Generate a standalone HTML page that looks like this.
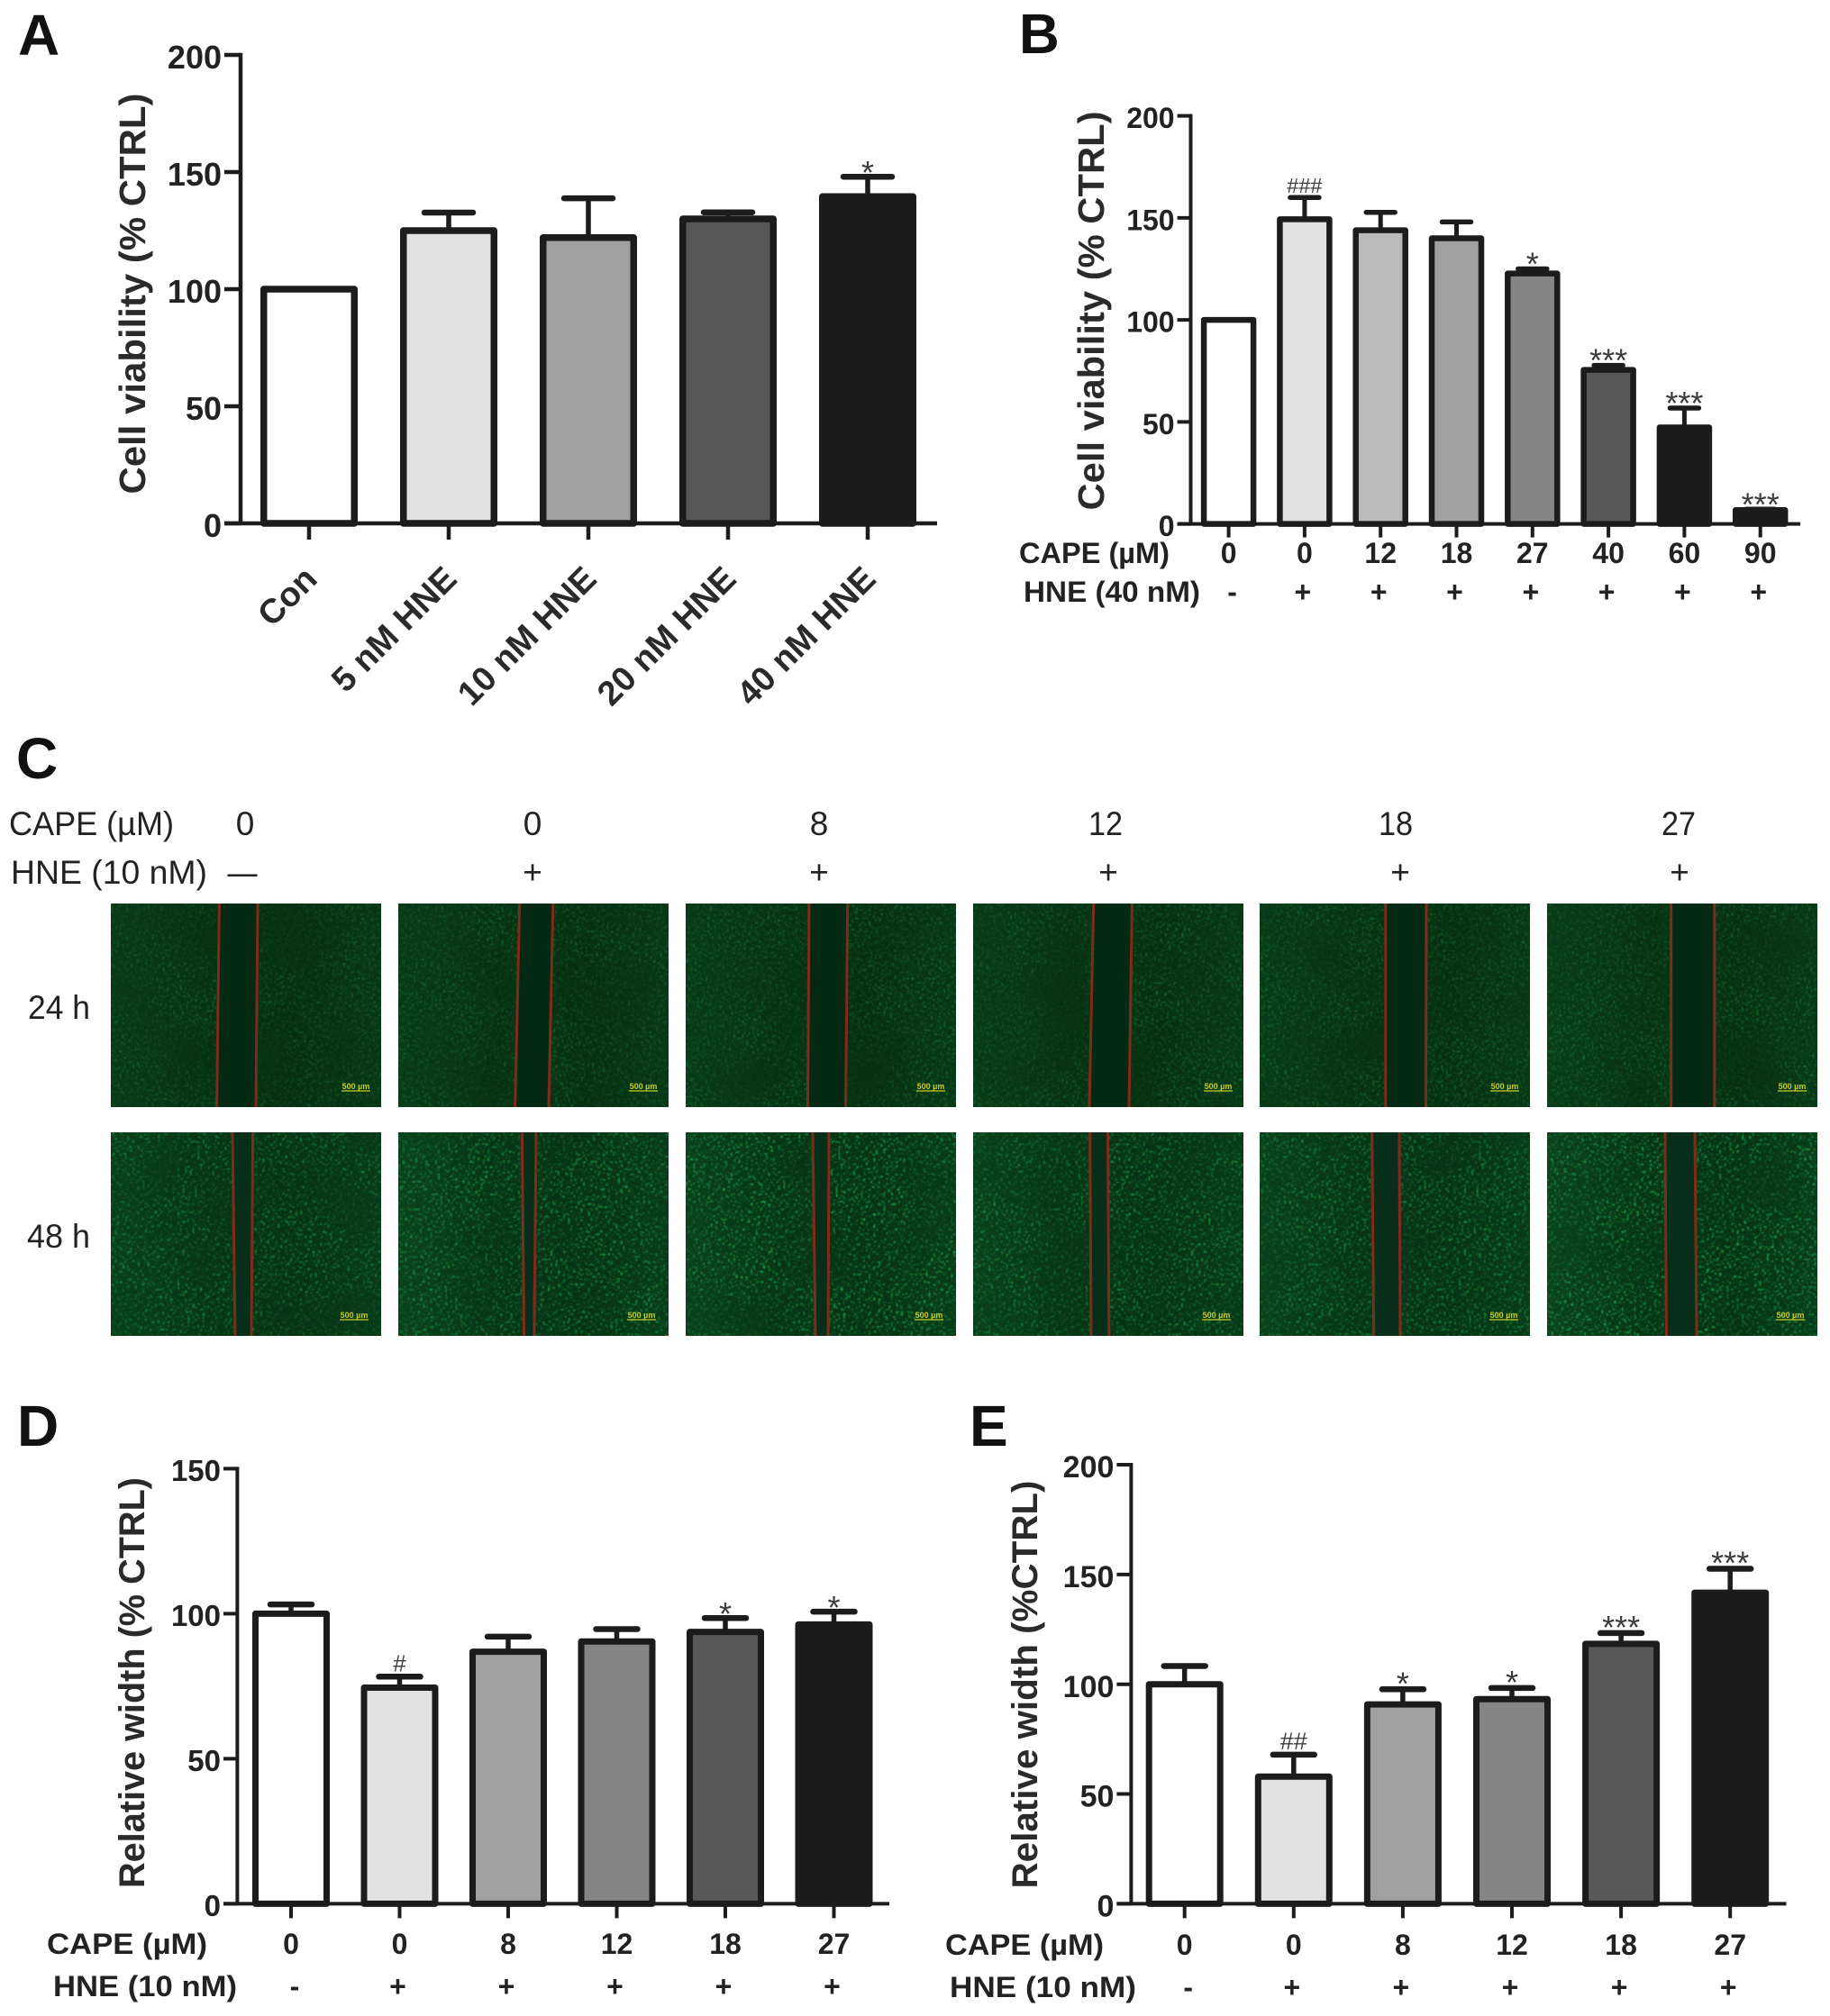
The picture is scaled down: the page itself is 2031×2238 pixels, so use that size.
<!DOCTYPE html>
<html lang="en">
<head>
<meta charset="utf-8">
<title>Cell viability and relative width figure</title>
<style>
html,body{margin:0;padding:0;background:#fff;}
svg{display:block;}
text{font-family:"Liberation Sans",Arial,sans-serif;}
.edge{stroke:#7f2a1d;stroke-width:3;}
</style>
</head>
<body>
<svg id="figure" xmlns="http://www.w3.org/2000/svg" width="2031" height="2238" viewBox="0 0 2031 2238">
<defs>
<filter id="speck1" x="0" y="0" width="1" height="1" color-interpolation-filters="sRGB">
<feTurbulence type="fractalNoise" baseFrequency="0.42" numOctaves="2" seed="4" result="fine"/>
<feColorMatrix in="fine" type="matrix" values="0 0 0 0 0.08  0 0 0 0 0.52  0 0 0 0 0.2  6 0 0 0 -3.4" result="dots"/>
<feTurbulence type="fractalNoise" baseFrequency="0.014" numOctaves="2" seed="5" result="coarse"/>
<feColorMatrix in="coarse" type="matrix" values="0 0 0 0 1  0 0 0 0 1  0 0 0 0 1  1.6 0 0 0 -0.05" result="mask"/>
<feComposite in="dots" in2="mask" operator="in"/>
<feGaussianBlur stdDeviation="0.8"/>
</filter>
<filter id="speck2" x="0" y="0" width="1" height="1" color-interpolation-filters="sRGB">
<feTurbulence type="fractalNoise" baseFrequency="0.36" numOctaves="2" seed="9" result="fine"/>
<feColorMatrix in="fine" type="matrix" values="0 0 0 0 0.12  0 0 0 0 0.72  0 0 0 0 0.3  7 0 0 0 -4.1" result="dots"/>
<feTurbulence type="fractalNoise" baseFrequency="0.014" numOctaves="2" seed="12" result="coarse"/>
<feColorMatrix in="coarse" type="matrix" values="0 0 0 0 1  0 0 0 0 1  0 0 0 0 1  1.8 0 0 0 0" result="mask"/>
<feComposite in="dots" in2="mask" operator="in"/>
<feGaussianBlur stdDeviation="0.9"/>
</filter>
<linearGradient id="edge-glow" x1="0" x2="1" y1="0" y2="0">
<stop offset="0" stop-color="#1d8a3a" stop-opacity="0.16"/>
<stop offset="0.35" stop-color="#1d8a3a" stop-opacity="0.03"/>
<stop offset="0.7" stop-color="#1d8a3a" stop-opacity="0"/>
<stop offset="1" stop-color="#1d8a3a" stop-opacity="0.1"/>
</linearGradient>
</defs>
<rect x="0" y="0" width="2031" height="2238" fill="#ffffff"/>

<text x="20" y="61" font-size="64" font-weight="700" fill="#111">A</text>
<text x="1131" y="59" font-size="62" font-weight="700" fill="#111">B</text>
<text x="18" y="864" font-size="64" font-weight="700" fill="#111">C</text>
<text x="19" y="1605" font-size="64" font-weight="700" fill="#111">D</text>
<text x="1076" y="1605" font-size="64" font-weight="700" fill="#111">E</text>

<g id="chart-a"></g>
<g id="chart-b"></g>
<g id="chart-d"></g>
<g id="chart-e"></g>

<g font-size="37" fill="#222">
<text x="10" y="927" textLength="183" lengthAdjust="spacingAndGlyphs">CAPE (µM)</text>
<text x="12" y="981" textLength="218" lengthAdjust="spacingAndGlyphs">HNE (10 nM)</text>
<g text-anchor="middle">
<text x="272" y="927">0</text>
<text x="591" y="927">0</text>
<text x="909" y="927">8</text>
<text x="1227" y="927" textLength="38" lengthAdjust="spacingAndGlyphs">12</text>
<text x="1549" y="927" textLength="38" lengthAdjust="spacingAndGlyphs">18</text>
<text x="1863" y="927" textLength="38" lengthAdjust="spacingAndGlyphs">27</text>
</g>
<g text-anchor="middle">
<text x="269" y="981" textLength="33" lengthAdjust="spacingAndGlyphs">—</text>
<text x="591" y="981">+</text>
<text x="909" y="981">+</text>
<text x="1230" y="981">+</text>
<text x="1554" y="981">+</text>
<text x="1864" y="981">+</text>
</g>
<text x="31" y="1131" textLength="69" lengthAdjust="spacingAndGlyphs">24 h</text>
<text x="30" y="1385" textLength="70" lengthAdjust="spacingAndGlyphs">48 h</text>
</g>

<g font-size="9" font-weight="700" fill="#c9cc22" text-anchor="middle">
<g>
<rect x="123" y="1003" width="300" height="226" fill="#073013"/>
<rect x="123" y="1003" width="300" height="226" filter="url(#speck1)" opacity="0.8"/>
<rect x="123" y="1003" width="300" height="226" fill="url(#edge-glow)" opacity="0.6"/>
<polygon points="243,1003 286,1003 284,1229 241,1229" fill="#052a14"/>
<line class="edge" x1="243.4" y1="1003" x2="240.6" y2="1229"/>
<line class="edge" x1="286" y1="1003" x2="284" y2="1229"/>
<text x="395" y="1209">500 µm</text>
<line x1="379" y1="1211" x2="411" y2="1211" stroke="#c9cc22" stroke-width="1.2"/>
</g>
<g>
<rect x="442" y="1003" width="300" height="226" fill="#073013"/>
<rect x="442" y="1003" width="300" height="226" filter="url(#speck1)" opacity="0.85"/>
<rect x="442" y="1003" width="300" height="226" fill="url(#edge-glow)" opacity="0.7"/>
<polygon points="576.6,1003 613.8,1003 609,1229 571.7,1229" fill="#052a14"/>
<line class="edge" x1="576.6" y1="1003" x2="571.7" y2="1229"/>
<line class="edge" x1="613.8" y1="1003" x2="609" y2="1229"/>
<text x="714" y="1209">500 µm</text>
<line x1="698" y1="1211" x2="730" y2="1211" stroke="#c9cc22" stroke-width="1.2"/>
</g>
<g>
<rect x="761" y="1003" width="300" height="226" fill="#073013"/>
<rect x="761" y="1003" width="300" height="226" filter="url(#speck1)" opacity="0.9"/>
<rect x="761" y="1003" width="300" height="226" fill="url(#edge-glow)" opacity="0.7"/>
<polygon points="898,1003 940.7,1003 938.6,1229 896.5,1229" fill="#052a14"/>
<line class="edge" x1="898" y1="1003" x2="896.5" y2="1229"/>
<line class="edge" x1="940.7" y1="1003" x2="938.6" y2="1229"/>
<text x="1033" y="1209">500 µm</text>
<line x1="1017" y1="1211" x2="1049" y2="1211" stroke="#c9cc22" stroke-width="1.2"/>
</g>
<g>
<rect x="1080" y="1003" width="300" height="226" fill="#073013"/>
<rect x="1080" y="1003" width="300" height="226" filter="url(#speck1)" opacity="0.9"/>
<rect x="1080" y="1003" width="300" height="226" fill="url(#edge-glow)" opacity="0.7"/>
<polygon points="1213.7,1003 1256.4,1003 1253,1229 1209,1229" fill="#052a14"/>
<line class="edge" x1="1213.7" y1="1003" x2="1209" y2="1229"/>
<line class="edge" x1="1256.4" y1="1003" x2="1253" y2="1229"/>
<text x="1352" y="1209">500 µm</text>
<line x1="1336" y1="1211" x2="1368" y2="1211" stroke="#c9cc22" stroke-width="1.2"/>
</g>
<g>
<rect x="1398" y="1003" width="300" height="226" fill="#073013"/>
<rect x="1398" y="1003" width="300" height="226" filter="url(#speck1)" opacity="0.9"/>
<rect x="1398" y="1003" width="300" height="226" fill="url(#edge-glow)" opacity="0.7"/>
<polygon points="1537.8,1003 1583,1003 1582.5,1229 1537.8,1229" fill="#052a14"/>
<line class="edge" x1="1537.8" y1="1003" x2="1537.8" y2="1229"/>
<line class="edge" x1="1583" y1="1003" x2="1582.5" y2="1229"/>
<text x="1670" y="1209">500 µm</text>
<line x1="1654" y1="1211" x2="1686" y2="1211" stroke="#c9cc22" stroke-width="1.2"/>
</g>
<g>
<rect x="1717" y="1003" width="300" height="226" fill="#073013"/>
<rect x="1717" y="1003" width="300" height="226" filter="url(#speck1)" opacity="0.95"/>
<rect x="1717" y="1003" width="300" height="226" fill="url(#edge-glow)" opacity="0.8"/>
<polygon points="1854.7,1003 1902.8,1003 1902.8,1229 1854.7,1229" fill="#052a14"/>
<line class="edge" x1="1854.7" y1="1003" x2="1854.7" y2="1229"/>
<line class="edge" x1="1902.8" y1="1003" x2="1902.8" y2="1229"/>
<text x="1989" y="1209">500 µm</text>
<line x1="1973" y1="1211" x2="2005" y2="1211" stroke="#c9cc22" stroke-width="1.2"/>
</g>

<g>
<rect x="123" y="1257" width="300" height="226" fill="#073316"/>
<rect x="123" y="1257" width="300" height="226" filter="url(#speck2)" opacity="0.75"/>
<rect x="123" y="1257" width="300" height="226" fill="url(#edge-glow)" opacity="0.8"/>
<polygon points="258,1257 280.6,1257 279,1483 261,1483" fill="#062e18"/>
<line class="edge" x1="258" y1="1257" x2="261" y2="1483"/>
<line class="edge" x1="280.6" y1="1257" x2="279" y2="1483"/>
<text x="393" y="1463">500 µm</text>
<line x1="377" y1="1465" x2="409" y2="1465" stroke="#c9cc22" stroke-width="1.2"/>
</g>
<g>
<rect x="442" y="1257" width="300" height="226" fill="#073316"/>
<rect x="442" y="1257" width="300" height="226" filter="url(#speck2)" opacity="0.85"/>
<rect x="442" y="1257" width="300" height="226" fill="url(#edge-glow)" opacity="1"/>
<polygon points="579.4,1257 595,1257 592.8,1483 581.6,1483" fill="#062e18"/>
<line class="edge" x1="579.4" y1="1257" x2="581.6" y2="1483"/>
<line class="edge" x1="595" y1="1257" x2="592.8" y2="1483"/>
<text x="712" y="1463">500 µm</text>
<line x1="696" y1="1465" x2="728" y2="1465" stroke="#c9cc22" stroke-width="1.2"/>
</g>
<g>
<rect x="761" y="1257" width="300" height="226" fill="#073316"/>
<rect x="761" y="1257" width="300" height="226" filter="url(#speck2)" opacity="0.95"/>
<rect x="761" y="1257" width="300" height="226" fill="url(#edge-glow)" opacity="0.9"/>
<polygon points="902,1257 920,1257 919,1483 905,1483" fill="#062e18"/>
<line class="edge" x1="902" y1="1257" x2="905" y2="1483"/>
<line class="edge" x1="920" y1="1257" x2="919" y2="1483"/>
<text x="1031" y="1463">500 µm</text>
<line x1="1015" y1="1465" x2="1047" y2="1465" stroke="#c9cc22" stroke-width="1.2"/>
</g>
<g>
<rect x="1080" y="1257" width="300" height="226" fill="#073316"/>
<rect x="1080" y="1257" width="300" height="226" filter="url(#speck2)" opacity="0.8"/>
<rect x="1080" y="1257" width="300" height="226" fill="url(#edge-glow)" opacity="0.9"/>
<polygon points="1209.7,1257 1229.5,1257 1230.8,1483 1211,1483" fill="#062e18"/>
<line class="edge" x1="1209.7" y1="1257" x2="1211" y2="1483"/>
<line class="edge" x1="1229.5" y1="1257" x2="1230.8" y2="1483"/>
<text x="1350" y="1463">500 µm</text>
<line x1="1334" y1="1465" x2="1366" y2="1465" stroke="#c9cc22" stroke-width="1.2"/>
</g>
<g>
<rect x="1398" y="1257" width="300" height="226" fill="#073316"/>
<rect x="1398" y="1257" width="300" height="226" filter="url(#speck2)" opacity="0.8"/>
<rect x="1398" y="1257" width="300" height="226" fill="url(#edge-glow)" opacity="0.9"/>
<polygon points="1522.7,1257 1553,1257 1554,1483 1524.7,1483" fill="#062e18"/>
<line class="edge" x1="1522.7" y1="1257" x2="1524.7" y2="1483"/>
<line class="edge" x1="1553" y1="1257" x2="1554" y2="1483"/>
<text x="1669" y="1463">500 µm</text>
<line x1="1653" y1="1465" x2="1685" y2="1465" stroke="#c9cc22" stroke-width="1.2"/>
</g>
<g>
<rect x="1717" y="1257" width="300" height="226" fill="#073316"/>
<rect x="1717" y="1257" width="300" height="226" filter="url(#speck2)" opacity="1"/>
<rect x="1717" y="1257" width="300" height="226" fill="url(#edge-glow)" opacity="1.0"/>
<polygon points="1848,1257 1881,1257 1883,1483 1849.5,1483" fill="#062e18"/>
<line class="edge" x1="1848" y1="1257" x2="1849.5" y2="1483"/>
<line class="edge" x1="1881" y1="1257" x2="1883" y2="1483"/>
<text x="1987" y="1463">500 µm</text>
<line x1="1971" y1="1465" x2="2003" y2="1465" stroke="#c9cc22" stroke-width="1.2"/>
</g>
</g>
</svg>

<script>
// Panel A data
const panelACategories = ['Con', '5 nM HNE', '10 nM HNE', '20 nM HNE', '40 nM HNE'];
const panelAValues = [100, 125, 122, 130, 139.5];
const panelAErrorTops = [100, 132.7, 138.8, 132.8, 148];
const panelAMarks = ['', '', '', '', '*'];
const panelATicks = [0, 50, 100, 150, 200];
const panelATickLabels = ['0', '50', '100', '150', '200'];

// Panel B data
const panelBCape = ['0', '0', '12', '18', '27', '40', '60', '90'];
const panelBHne = ['-', '+', '+', '+', '+', '+', '+', '+'];
const panelBValues = [100, 149.3, 143.9, 140, 122.7, 75.5, 47.3, 6.8];
const panelBErrorTops = [100, 160, 152.7, 148, 125, 77.7, 56.8, 7.2];
const panelBMarks = ['', '###', '', '', '*', '***', '***', '***'];
const panelBTicks = [0, 50, 100, 150, 200];
const panelBTickLabels = ['0', '50', '100', '150', '200'];

// Panel D data
const panelDCape = ['0', '0', '8', '12', '18', '27'];
const panelDHne = ['-', '+', '+', '+', '+', '+'];
const panelDValues = [100, 74.5, 86.9, 90.4, 93.7, 96.3];
const panelDErrorTops = [103.2, 78.3, 92.1, 94.7, 98.5, 100.7];
const panelDMarks = ['', '#', '', '', '*', '*'];
const panelDTicks = [0, 50, 100, 150];
const panelDTickLabels = ['0', '50', '100', '150'];

// Panel E data
const panelECape = ['0', '0', '8', '12', '18', '27'];
const panelEHne = ['-', '+', '+', '+', '+', '+'];
const panelEValues = [100, 57.9, 90.8, 93.2, 118.4, 141.7];
const panelEErrorTops = [108.3, 67.9, 97.7, 98.3, 123.3, 152.6];
const panelEMarks = ['', '##', '*', '*', '***', '***'];
const panelETicks = [0, 50, 100, 150, 200];
const panelETickLabels = ['0', '50', '100', '150', '200'];

const INK = '#1c1c1c';
const SVGNS = 'http://www.w3.org/2000/svg';

function node(parent, tag, props, content) {
  const el = document.createElementNS(SVGNS, tag);
  for (const key in props) { el.setAttribute(key, props[key]); }
  if (content !== undefined) { el.textContent = content; }
  parent.appendChild(el);
  return el;
}

function drawChart(g, o) {
  const yOf = function (v) { return o.bottom - (v / o.max) * (o.bottom - o.top); };
  const xOf = function (i) { return o.firstX + i * o.stepX; };

  // bars and error bars
  o.values.forEach(function (v, i) {
    const cx = xOf(i);
    const errLine = node(g, 'line', {x1: cx, x2: cx, y1: yOf(v), y2: yOf(o.errors[i]), stroke: INK, 'stroke-width': o.errW});
    
    
    const cap = node(g, 'line', {x1: cx - o.capW / 2, x2: cx + o.capW / 2, y1: yOf(o.errors[i]), y2: yOf(o.errors[i]), stroke: INK, 'stroke-width': o.capT, 'stroke-linecap': 'round'});
    
    
    const bar = node(g, 'rect', {x: cx - o.barW / 2 + o.stroke / 2, y: yOf(v), width: o.barW - o.stroke, height: o.bottom - yOf(v), fill: o.fills[i], stroke: INK, 'stroke-width': o.stroke, 'stroke-linejoin': 'round'});
    
    
    const mark = o.marks[i];
    if (mark) {
      const isStar = mark.charAt(0) === '*';
      const size = isStar ? o.starSize : o.hashSize;
      const label = node(g, 'text', {x: cx, y: yOf(o.errors[i]) + (isStar ? o.starDy : o.hashDy), 'text-anchor': 'middle', 'font-size': size, fill: '#3c3c3c'}, mark);
      
      
    }
  });

  // axes
  const yAxis = node(g, 'line', {x1: o.left, x2: o.left, y1: o.top - o.axisW / 2, y2: o.bottom, stroke: INK, 'stroke-width': o.axisW});
  
  
  const xAxis = node(g, 'line', {x1: o.tickLeft, x2: o.right, y1: o.bottom, y2: o.bottom, stroke: INK, 'stroke-width': o.axisW});
  
  

  o.ticks.forEach(function (t, i) {
    const y = yOf(t);
    const tick = node(g, 'line', {x1: o.tickLeft, x2: o.left, y1: y, y2: y, stroke: INK, 'stroke-width': o.axisW});
    
    
    const lab = node(g, 'text', {x: o.tickLeft - 3, y: y + o.tickFont * 0.358 + 2, 'text-anchor': 'end', 'font-size': o.tickFont, 'font-weight': 700, fill: '#222'}, o.tickLabels[i]);
    
    
  });

  o.values.forEach(function (v, i) {
    const tick = node(g, 'line', {x1: xOf(i), x2: xOf(i), y1: o.bottom, y2: o.bottom + o.tickLen, stroke: INK, 'stroke-width': o.axisW});
    
    
  });

  // y axis title
  const title = node(g, 'text', {transform: 'translate(' + o.titleX + ',' + o.titleY + ') rotate(-90)', 'text-anchor': 'middle', 'font-size': o.titleFont, 'font-weight': 700, fill: '#2a2a2a', textLength: o.titleLen, lengthAdjust: 'spacingAndGlyphs'}, o.title);
  
  

  // treatment rows
  if (o.cape) {
    const capeTitle = node(g, 'text', {x: o.capeX, y: o.capeY, 'font-size': o.rowFont, 'font-weight': 700, fill: '#222', textLength: o.capeLen, lengthAdjust: 'spacingAndGlyphs'}, 'CAPE (µM)');
    
    
    const hneTitle = node(g, 'text', {x: o.hneX, y: o.hneY, 'font-size': o.rowFont, 'font-weight': 700, fill: '#222', textLength: o.hneLen, lengthAdjust: 'spacingAndGlyphs'}, o.hneTitle);
    
    
    o.cape.forEach(function (c, i) {
      const dose = node(g, 'text', {x: xOf(i), y: o.capeY, 'text-anchor': 'middle', 'font-size': o.rowFont, 'font-weight': 700, fill: '#222'}, c);
      
      
      const flag = node(g, 'text', {x: xOf(i) + (i === 0 ? 4 : -2), y: o.hneY, 'text-anchor': 'middle', 'font-size': o.rowFont, 'font-weight': 700, fill: '#222'}, o.hne[i]);
      
      
    });
  }

  // rotated categories
  if (o.categories) {
    o.categories.forEach(function (c, i) {
      const lab = node(g, 'text', {transform: 'translate(' + (xOf(i) + 11) + ',645) rotate(-45)', 'text-anchor': 'end', 'font-size': 38, 'font-weight': 700, fill: '#2a2a2a'}, c);
      
      
    });
  }
}

drawChart(document.getElementById('chart-a'), {
  values: panelAValues, errors: panelAErrorTops, marks: panelAMarks, ticks: panelATicks, tickLabels: panelATickLabels,
  categories: panelACategories,
  fills: ['#ffffff', '#e1e1e1', '#a0a0a0', '#585858', '#1c1c1c'],
  left: 267, right: 1040, top: 61, bottom: 581, max: 200, tickLeft: 249, tickLen: 18,
  firstX: 343, stepX: 155, barW: 108, stroke: 7.5, errW: 5.5, capW: 54, capT: 6.5, axisW: 4.5,
  tickFont: 36, title: 'Cell viability (% CTRL)', titleX: 161, titleY: 326, titleFont: 41, titleLen: 445,
  starSize: 36, starDy: 8, hashSize: 26, hashDy: -5
});

drawChart(document.getElementById('chart-b'), {
  values: panelBValues, errors: panelBErrorTops, marks: panelBMarks, ticks: panelBTicks, tickLabels: panelBTickLabels,
  cape: panelBCape, hne: panelBHne, hneTitle: 'HNE (40 nM)',
  fills: ['#ffffff', '#e1e1e1', '#bababa', '#a0a0a0', '#858585', '#585858', '#1c1c1c', '#1c1c1c'],
  left: 1321.5, right: 1998, top: 128.6, bottom: 581.6, max: 200, tickLeft: 1306.6, tickLen: 15,
  firstX: 1363.6, stepX: 84.3, barW: 61.5, stroke: 6.5, errW: 5, capW: 32, capT: 5.5, axisW: 4,
  tickFont: 32, title: 'Cell viability (% CTRL)', titleX: 1225, titleY: 345, titleFont: 41, titleLen: 443,
  capeX: 1131, capeY: 625, capeLen: 167, hneX: 1136, hneY: 668, hneLen: 196, rowFont: 32,
  starSize: 36, starDy: 7, hashSize: 23.5, hashDy: -5
});

drawChart(document.getElementById('chart-d'), {
  values: panelDValues, errors: panelDErrorTops, marks: panelDMarks, ticks: panelDTicks, tickLabels: panelDTickLabels,
  cape: panelDCape, hne: panelDHne, hneTitle: 'HNE (10 nM)',
  fills: ['#ffffff', '#e1e1e1', '#a0a0a0', '#858585', '#585858', '#1c1c1c'],
  left: 263.4, right: 987, top: 1630.4, bottom: 2113.4, max: 150, tickLeft: 248, tickLen: 16,
  firstX: 323, stepX: 120.5, barW: 86, stroke: 7, errW: 5.5, capW: 46, capT: 6.5, axisW: 4,
  tickFont: 33, title: 'Relative width (% CTRL)', titleX: 160, titleY: 1868, titleFont: 40, titleLen: 456,
  capeX: 52, capeY: 2169, capeLen: 178, hneX: 59, hneY: 2216, hneLen: 204, rowFont: 32,
  starSize: 36, starDy: 8, hashSize: 26, hashDy: -6
});

drawChart(document.getElementById('chart-e'), {
  values: panelEValues, errors: panelEErrorTops, marks: panelEMarks, ticks: panelETicks, tickLabels: panelETickLabels,
  cape: panelECape, hne: panelEHne, hneTitle: 'HNE (10 nM)',
  fills: ['#ffffff', '#e1e1e1', '#a0a0a0', '#858585', '#585858', '#1c1c1c'],
  left: 1255.4, right: 1982.5, top: 1626, bottom: 2113.4, max: 200, tickLeft: 1239.4, tickLen: 16,
  firstX: 1314.7, stepX: 121.1, barW: 86, stroke: 7, errW: 5.5, capW: 46, capT: 6.5, axisW: 4,
  tickFont: 34, title: 'Relative width (%CTRL)', titleX: 1151, titleY: 1870, titleFont: 40, titleLen: 453,
  capeX: 1049, capeY: 2170, capeLen: 176, hneX: 1054, hneY: 2217, hneLen: 207, rowFont: 32,
  starSize: 36, starDy: 6, hashSize: 27, hashDy: -6
});
</script>
</body>
</html>
